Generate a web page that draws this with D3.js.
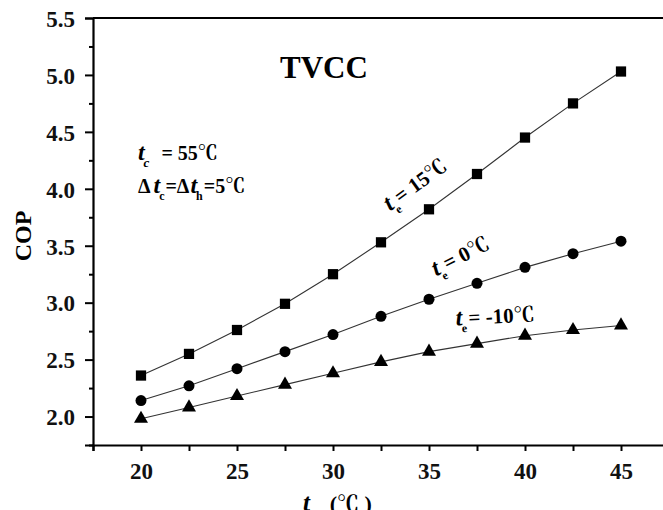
<!DOCTYPE html>
<html>
<head>
<meta charset="utf-8">
<script src="https://cdn.jsdelivr.net/npm/d3@7"></script>
<style>
  body { margin: 0; background: #fff; }
</style>
</head>
<body>
<svg id="chart" width="663" height="510"></svg>
<script>
// data
var tempC = [20, 22.5, 25, 27.5, 30, 32.5, 35, 37.5, 40, 42.5, 45];
var copTe15 = [2.36, 2.55, 2.76, 2.99, 3.25, 3.53, 3.82, 4.13, 4.45, 4.75, 5.03];
var copTe0 = [2.14, 2.27, 2.42, 2.57, 2.72, 2.88, 3.03, 3.17, 3.31, 3.43, 3.54];
var copTeM10 = [1.98, 2.08, 2.18, 2.28, 2.38, 2.48, 2.57, 2.64, 2.71, 2.76, 2.80];
var xTicks = [20, 25, 30, 35, 40, 45];
var yTicks = [2.0, 2.5, 3.0, 3.5, 4.0, 4.5, 5.0, 5.5];

var FONT = "Liberation Serif";
var DEG_FONT = "Noto Serif CJK SC";
var svg = d3.select("#chart");

// scales
var x = d3.scaleLinear().domain([17.5, 50]).range([93, 717]);
var y = d3.scaleLinear().domain([1.75, 5.5]).range([445, 18]);

// minor ticks
var xMinor = d3.range(17.5, 50, 2.5).filter(function(v){ return xTicks.indexOf(v) < 0; });
var yMinor = d3.range(1.75, 5.5, 0.25).filter(function(v){ return yTicks.indexOf(+v.toFixed(2)) < 0; });

// x axis
var xAxis = svg.append("g").attr("transform", "translate(0," + y(1.75) + ")")
  .call(d3.axisBottom(x).tickValues(xTicks).tickSize(6).tickPadding(12).tickFormat(d3.format("d")));
svg.append("g").attr("transform", "translate(0," + y(1.75) + ")")
  .call(d3.axisBottom(x).tickValues(xMinor).tickSize(6).tickFormat(""))
  .select(".domain").remove();

// y axis
var yAxis = svg.append("g").attr("transform", "translate(" + x(17.5) + ",0)")
  .call(d3.axisLeft(y).tickValues(yTicks).tickSize(8).tickPadding(10).tickFormat(d3.format(".1f")));
svg.append("g").attr("transform", "translate(" + x(17.5) + ",0)")
  .call(d3.axisLeft(y).tickValues(yMinor).tickSize(4).tickFormat(""))
  .select(".domain").remove();

svg.selectAll("g").attr("font-family", FONT);
svg.selectAll(".domain").attr("stroke-width", 2.2).attr("stroke", "#000");
svg.selectAll(".tick line").attr("stroke-width", 2).attr("stroke", "#000");
svg.selectAll(".tick text")
  .attr("font-family", FONT)
  .attr("font-size", 23).attr("font-weight", "bold").attr("fill", "#111");
yAxis.selectAll(".tick text").attr("dy", "0.36em");

// top frame
svg.append("line")
  .attr("x1", x(17.5)).attr("x2", x(50))
  .attr("y1", y(5.5)).attr("y2", y(5.5))
  .attr("stroke", "#000").attr("stroke-width", 2.2);

// series lines and markers
var series = [
  { vals: copTe15, shape: d3.symbolSquare, size: 105 },
  { vals: copTe0, shape: d3.symbolCircle, size: 95 },
  { vals: copTeM10, shape: d3.symbolTriangle, size: 85 }
];

var line = d3.line()
  .x(function(d){ return x(d[0]); })
  .y(function(d){ return y(d[1]); });

series.forEach(function(s) {
  var pts = tempC.map(function(t, i){ return [t, s.vals[i]]; });
  svg.append("path")
    .datum(pts)
    .attr("d", line)
    .attr("fill", "none")
    .attr("stroke", "#333")
    .attr("stroke-width", 1.1);
  svg.append("g").selectAll("path")
    .data(pts)
    .enter().append("path")
    .attr("transform", function(d){ return "translate(" + x(d[0]) + "," + y(d[1]) + ")"; })
    .attr("d", d3.symbol().type(s.shape).size(s.size))
    .attr("fill", "#000");
});

// degree sign gets its own font so the rest stays serif
function deg(sel) {
  sel.append("tspan").attr("font-family", DEG_FONT).text("℃");
}

// title
svg.append("text")
  .attr("x", x(27.24)).attr("y", y(4.97))
  .attr("font-family", FONT)
  .attr("font-size", 31).attr("font-weight", "bold")
  .text("TVCC");

// condition notes
var note1 = svg.append("text")
  .attr("x", x(19.84)).attr("y", y(4.25))
  .attr("font-family", FONT)
  .attr("font-size", 20).attr("font-weight", "bold");
note1.append("tspan").attr("font-style", "italic").attr("font-size", 24).text("t");
note1.append("tspan").attr("font-style", "italic").attr("font-size", 13).attr("dx", -1).attr("dy", 7).text("c");
note1.append("tspan").attr("dx", 12).attr("dy", -7).text("= 55");
deg(note1);

var note2 = svg.append("text")
  .attr("x", x(19.84)).attr("y", y(3.96))
  .attr("font-family", FONT)
  .attr("font-size", 20).attr("font-weight", "bold");
note2.append("tspan").text("Δ");
note2.append("tspan").attr("font-style", "italic").attr("font-size", 24).attr("dx", 3).text("t");
note2.append("tspan").attr("font-size", 12).attr("dx", -1).attr("dy", 7).text("c");
note2.append("tspan").attr("dx", 1).attr("dy", -7).text("=Δ");
note2.append("tspan").attr("font-style", "italic").attr("font-size", 24).attr("dx", 1).text("t");
note2.append("tspan").attr("font-size", 12).attr("dx", -1).attr("dy", 7).text("h");
note2.append("tspan").attr("dx", 1).attr("dy", -7).text("=5");
deg(note2);

// curve labels
var curveLabels = [
  { x: 32.97, y: 3.80, angle: -36, text: "= 15" },
  { x: 35.36, y: 3.23, angle: -27, text: "= 0" },
  { x: 36.40, y: 2.80, angle: -3, text: "= -10" }
];
curveLabels.forEach(function(c) {
  var t = svg.append("text")
    .attr("transform", "translate(" + x(c.x) + "," + y(c.y) + ") rotate(" + c.angle + ")")
    .attr("font-family", FONT)
    .attr("font-size", 21).attr("font-weight", "bold");
  t.append("tspan").attr("font-style", "italic").attr("font-size", 24).text("t");
  t.append("tspan").attr("font-size", 12).attr("dx", -1).attr("dy", 7).text("e");
  t.append("tspan").attr("dx", 2).attr("dy", -7).text(c.text);
  deg(t);
});

// axis titles
svg.append("text")
  .attr("transform", "translate(31,236) rotate(-90)")
  .attr("text-anchor", "middle")
  .attr("font-family", FONT)
  .attr("font-size", 24).attr("font-weight", "bold")
  .text("COP");

var xt = svg.append("text")
  .attr("x", 303).attr("y", 511)
  .attr("font-family", FONT)
  .attr("font-size", 22).attr("font-weight", "bold");
xt.append("tspan").attr("font-style", "italic").attr("font-size", 25).text("t");
xt.append("tspan").attr("font-size", 13).attr("dy", 7).text("c");
xt.append("tspan").attr("dx", 14).attr("dy", -7).text("(");
deg(xt);
xt.append("tspan").text(" )");
</script>
</body>
</html>
